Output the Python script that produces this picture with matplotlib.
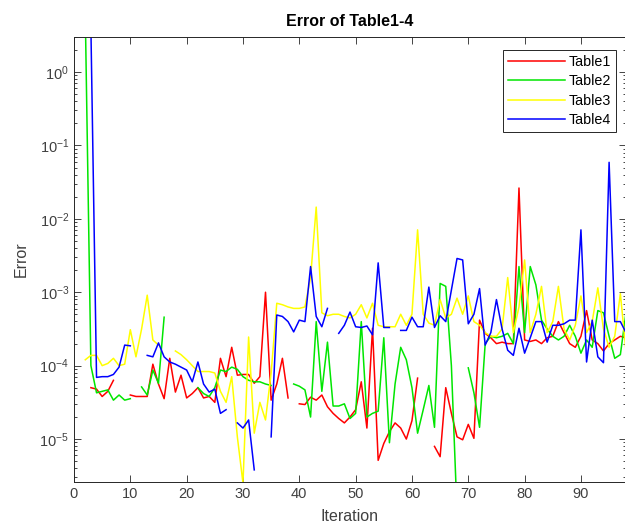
import numpy as np
import matplotlib
matplotlib.use("Agg")
import matplotlib.pyplot as plt
from matplotlib.ticker import LogLocator, NullFormatter

plt.rcParams['font.family'] = ['Liberation Sans', 'DejaVu Sans']
plt.rcParams['mathtext.default'] = 'regular'

# Iterations and error values (stored as log10 of the error, nan = no value)
nan = np.nan
iterations = np.arange(1, 99)

table1_log = [
    nan, nan, -4.30, -4.32, -4.42, -4.35, -4.20, nan, nan, -4.40,
    -4.42, -4.42, -4.42, -3.98, -4.25, -4.45, -3.90, -4.36, -4.13, -4.44,
    -4.38, -4.30, -4.44, -4.42, -4.50, -3.90, -4.15, -3.75, -4.13, -4.12,
    -4.12, -4.24, -4.15, -3.00, -4.47, -4.25, -3.90, -4.44, nan, -4.52,
    -4.53, -4.43, -4.47, -4.40, -4.56, -4.65, -4.72, -4.78, -4.70, -4.60,
    -4.22, -4.85, -3.49, -5.29, -5.06, -4.90, -4.78, -4.85, -5.00, -4.75,
    -4.17, nan, nan, -5.10, -5.24, -4.30, -4.65, -4.97, -5.01, -4.80,
    -4.99, -3.38, -3.56, -3.62, -3.70, -3.68, -3.70, -3.70, -1.58, -3.65,
    -3.67, -3.65, -3.70, -3.62, -3.60, -3.40, -3.55, -3.70, -3.75, -3.60,
    -3.25, -3.65, -3.70, -3.80, -3.70, -3.65, -3.60, -3.62,
]

table2_log = [
    nan, 0.80, -4.00, -4.37, -4.35, -4.33, -4.47, -4.40, -4.47, -4.45,
    nan, -4.29, -4.40, -4.06, -4.24, -3.34, nan, nan, nan, nan,
    nan, -4.30, -4.38, -4.42, -4.30, -4.06, -4.08, -4.02, -4.05, -4.15,
    -4.20, -4.22, -4.22, -4.25, -4.27, nan, nan, nan, -4.25, -4.28,
    -4.33, -4.70, -3.40, -4.35, -3.68, -4.55, -4.55, -4.52, -4.72, -4.65,
    -3.40, -4.70, -4.65, -4.62, -3.62, -5.05, -4.25, -3.75, -3.92, -4.30,
    -4.92, -4.60, -4.27, -4.84, -2.88, -2.92, -4.00, -6.00, nan, -4.03,
    -4.37, -4.84, -3.70, -3.60, -3.62, -3.60, -3.56, -3.70, -2.65, -3.55,
    -2.65, -2.90, -3.38, -3.50, -3.60, -3.65, -3.60, -3.45, -3.60, -3.83,
    -3.65, -3.75, -3.25, -3.28, -3.60, -3.90, -3.85, -3.28,
]

table3_log = [
    nan, -3.92, -3.86, -3.86, -4.00, -3.97, -3.90, -4.00, -3.98, -3.51,
    -3.88, -3.50, -3.04, -3.65, -3.72, nan, nan, -3.80, -3.85, -3.92,
    -4.00, -4.08, -4.08, -4.08, -4.10, -4.35, -4.50, -4.15, -4.97, -5.60,
    -3.61, -4.92, -4.50, -4.74, -4.10, -3.15, -3.17, -3.20, -3.22, -3.22,
    -3.20, -2.80, -1.84, -3.28, -3.32, -3.30, -3.30, -3.33, -3.35, -3.30,
    -3.17, -3.35, -3.15, -3.45, -3.47, -3.47, -3.47, -3.30, -3.45, -3.30,
    -2.15, -3.30, -3.42, -3.45, -3.10, -3.35, -3.30, -3.08, -3.30, -3.05,
    -3.40, -3.45, -3.55, -3.60, -3.60, -3.50, -2.80, -3.55, -3.20, -2.56,
    -3.55, -3.30, -2.92, -3.55, -3.40, -2.92, -3.50, -3.65, -3.45, -3.05,
    -3.55, -3.40, -2.94, -3.50, -3.75, -3.60, -3.02, -3.80,
]

table4_log = [
    nan, nan, 0.60, -4.16, -4.15, -4.15, -4.12, -4.02, -3.72, -3.73,
    nan, nan, -3.86, -3.88, -3.69, -3.88, -3.95, -3.98, -4.02, -4.06,
    -4.22, -3.95, -4.25, -4.36, -4.32, -4.65, -4.60, nan, -4.78, -4.85,
    -4.74, -5.42, nan, nan, -4.97, -3.31, -3.33, -3.40, -3.54, -3.38,
    -3.40, -2.65, -3.33, -3.47, -3.22, nan, -3.56, -3.45, -3.27, -3.47,
    -3.48, -3.46, -3.58, -2.60, -3.48, -3.48, nan, -3.52, -3.52, -3.34,
    -3.47, -3.47, -2.93, -3.48, -3.32, -3.40, -2.97, -2.54, -2.56, -3.43,
    -3.30, -2.95, -3.72, -3.55, -3.10, -3.50, -3.79, -3.86, -3.49, -3.83,
    -3.62, -3.40, -3.40, -3.68, -3.45, -3.45, -3.43, -3.38, -3.38, -2.15,
    -3.95, -3.38, -3.88, -3.96, -1.23, -3.40, -3.40, -3.55,
]

series = [
    ('Table1', table1_log, '#ff0000'),
    ('Table2', table2_log, '#00e600'),
    ('Table3', table3_log, '#ffff00'),
    ('Table4', table4_log, '#0000ff'),
]

fig = plt.figure(figsize=(6.25, 5.29), dpi=100)
# right spine sits just past the image edge, as in the cropped original
ax = fig.add_axes([74 / 625, 47 / 529, 552 / 625, 445 / 529])

for name, logs, color in series:
    ax.plot(iterations, np.power(10.0, np.array(logs)), color=color, lw=1.1, label=name)

ax.set_yscale('log')
ax.set_xlim(0, 98)
ax.set_ylim(2.6e-6, 3.0)
ax.set_xticks(range(0, 100, 10))
ax.yaxis.set_major_locator(LogLocator(base=10, numticks=12))
ax.yaxis.set_minor_locator(LogLocator(base=10, subs=np.arange(2, 10), numticks=12))
ax.yaxis.set_minor_formatter(NullFormatter())

dark = '#262626'
for sp in ax.spines.values():
    sp.set_color(dark)
    sp.set_linewidth(0.7)
ax.tick_params(which='both', direction='in', top=True, right=True,
               colors=dark, labelsize=10.5, width=0.6)
ax.tick_params(which='major', length=5)
ax.tick_params(which='minor', length=2.5)
ax.tick_params(axis='y', labelcolor='#404040')
ax.tick_params(axis='x', labelcolor='#404040')

ax.set_title('Error of Table1-4', fontsize=11.5, fontweight='bold', pad=8)
ax.set_xlabel('Iteration', fontsize=11.5, color='#404040', labelpad=6)
ax.set_ylabel('Error', fontsize=11.5, color='#404040', labelpad=8)

leg = ax.legend(loc='upper right', bbox_to_anchor=(0.982, 0.971), fontsize=10.3,
                fancybox=False, framealpha=1, edgecolor=dark, borderaxespad=0,
                handlelength=4.0, handletextpad=0.25, labelspacing=0.38,
                borderpad=0.35)
leg.get_frame().set_linewidth(0.7)

fig.savefig('out.png', dpi=100)
